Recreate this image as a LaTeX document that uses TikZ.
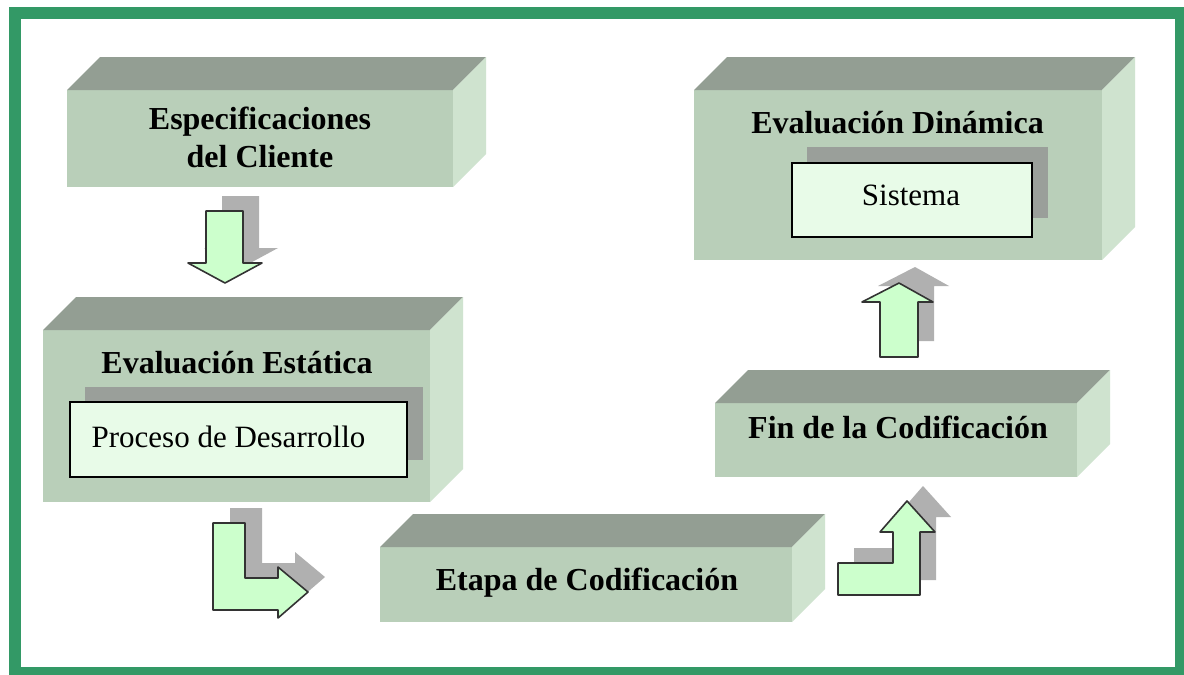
\documentclass[tikz,border=0pt]{standalone}
\usepackage{fontspec}
\setmainfont{Liberation Serif}
\usetikzlibrary{calc}
\definecolor{framec}{HTML}{339966}
\definecolor{frontc}{HTML}{B9CFB9}
\definecolor{topc}{HTML}{939E93}
\definecolor{sidec}{HTML}{CFE3CF}
\definecolor{shadc}{HTML}{9A9F9A}
\definecolor{innerc}{HTML}{E8FBE8}
\definecolor{arrowc}{HTML}{CCFFCC}
\definecolor{arrowline}{HTML}{333333}
\definecolor{ashadc}{HTML}{B0B0B0}
\tikzset{
  front/.style={fill=frontc, draw=none, inner sep=0pt, outer sep=0pt},
  topface/.style={fill=topc},
  sideface/.style={fill=sidec},
  inshadow/.style={fill=shadc},
  inbox/.style={fill=innerc, draw=black, line width=1.3pt, inner sep=0pt, outer sep=0pt},
  title/.style={anchor=base, inner sep=0pt, font=\bfseries\fontsize{32}{38}\selectfont},
  plain/.style={anchor=base, inner sep=0pt, font=\fontsize{31}{37}\selectfont},
  blockarrow/.style={fill=arrowc, draw=arrowline, line width=1.6pt, line join=round},
  arrowshadow/.style={fill=ashadc},
}
\newcommand{\cubesides}[1]{%
  \fill[topface] (#1.north west) -- ++(33,-33) -- ($(#1.north east)+(33,-33)$) -- (#1.north east) -- cycle;
  \fill[sideface] (#1.north east) -- ++(33,-33) -- ($(#1.south east)+(33,-33)$) -- (#1.south east) -- cycle;}
\begin{document}
\begin{tikzpicture}[x=1pt,y=-1pt]
\useasboundingbox (0,0) rectangle (1184,675);
% frame
\fill[framec] (9,7) rectangle (1184,675);
\fill[white] (21,19) rectangle (1175,667);

% Box 1: Especificaciones del Cliente
\node[front, minimum width=386pt, minimum height=97pt] (spec) at (260,138.5) {};
\cubesides{spec}
\node[title] (specA) at (260,129) {Especificaciones};
\node[title] (specB) at (260,167) {del Cliente};

% Box 2: Evaluacion Estatica
\node[front, minimum width=387pt, minimum height=172pt] (estat) at (236.5,416) {};
\cubesides{estat}
\node[title] (estatT) at (237,373) {Evaluación Estática};
\fill[inshadow] (85,387) rectangle (423,460);
\node[inbox, minimum width=337pt, minimum height=75pt] (proc) at (238.5,439.5) {};
\node[plain] (procT) at (228.5,447) {Proceso de Desarrollo};

% Box 3: Etapa de Codificacion
\node[front, minimum width=412pt, minimum height=75pt] (etapa) at (586,584.5) {};
\cubesides{etapa}
\node[title] (etapaT) at (587,590) {Etapa de Codificación};

% Box 4: Fin de la Codificacion
\node[front, minimum width=362pt, minimum height=74pt] (fin) at (896,440) {};
\cubesides{fin}
\node[title] (finT) at (898,438) {Fin de la Codificación};

% Box 5: Evaluacion Dinamica
\node[front, minimum width=408pt, minimum height=170pt] (dinam) at (898,175) {};
\cubesides{dinam}
\node[title] (dinamT) at (897.5,133) {Evaluación Dinámica};
\fill[inshadow] (807,147) rectangle (1048,218);
\node[inbox, minimum width=240pt, minimum height=74pt] (sist) at (912,200) {};
\node[plain] (sistT) at (911,205) {Sistema};

% Arrow 1 (down)
\fill[arrowshadow, shift={(16,-15)}] (206,211) -- (243,211) -- (243,263) -- (262,263) -- (225,283) -- (188,263) -- (206,263) -- cycle;
\draw[blockarrow] (206,211) -- (243,211) -- (243,263) -- (262,263) -- (225,283) -- (188,263) -- (206,263) -- cycle;

% Arrow 2 (down then right)
\fill[arrowshadow, shift={(17,-15)}] (213,523) -- (245,523) -- (245,578) -- (278,578) -- (278,567) -- (308,592) -- (278,618) -- (278,610) -- (213,610) -- cycle;
\draw[blockarrow] (213,523) -- (245,523) -- (245,578) -- (278,578) -- (278,567) -- (308,592) -- (278,618) -- (278,610) -- (213,610) -- cycle;

% Arrow 3 (right then up)
\fill[arrowshadow, shift={(16,-15)}] (838,563) -- (893,563) -- (893,532) -- (880,532) -- (907,501) -- (935,532) -- (920,532) -- (920,595) -- (838,595) -- cycle;
\draw[blockarrow] (838,563) -- (893,563) -- (893,532) -- (880,532) -- (907,501) -- (935,532) -- (920,532) -- (920,595) -- (838,595) -- cycle;

% Arrow 4 (up)
\fill[arrowshadow, shift={(16,-16)}] (880,357) -- (880,302) -- (862,302) -- (899,283) -- (933,302) -- (918,302) -- (918,357) -- cycle;
\draw[blockarrow] (880,357) -- (880,302) -- (862,302) -- (899,283) -- (933,302) -- (918,302) -- (918,357) -- cycle;
\end{tikzpicture}
\end{document}
